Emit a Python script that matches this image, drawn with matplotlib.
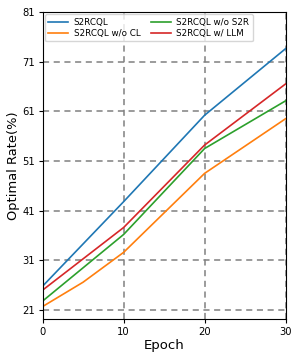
import matplotlib
matplotlib.use("Agg")
import matplotlib.pyplot as plt

epochs = [0, 10, 20, 30]
epochs_cl = [0, 5, 10, 20, 30]
s2rcql = [25.8, 42.8, 60.2, 73.6]
wo_cl = [21.7, 26.6, 32.6, 48.5, 59.5]
wo_s2r = [22.8, 36.2, 53.5, 63.1]
w_llm = [25.0, 37.6, 54.2, 66.5]

yticks = [21, 31, 41, 51, 61, 71, 81]
xticks = [0, 10, 20, 30]

fig = plt.figure(figsize=(3.0, 3.6), dpi=100)
ax = fig.add_axes([0.142, 0.114, 0.81, 0.853])

ax.plot(epochs, s2rcql, color="tab:blue", lw=1.2, label="S2RCQL")
ax.plot(epochs_cl, wo_cl, color="tab:orange", lw=1.2, label="S2RCQL w/o CL")
ax.plot(epochs, wo_s2r, color="tab:green", lw=1.2, label="S2RCQL w/o S2R")
ax.plot(epochs, w_llm, color="tab:red", lw=1.2, label="S2RCQL w/ LLM")

ax.set_xlim(0, 30)
ax.set_ylim(19.2, 81)
ax.set_xticks(xticks)
ax.set_yticks(yticks)
ax.tick_params(labelsize=7.2, length=3, pad=2.5)
ax.grid(True, linestyle="--", color="gray", lw=1.1, dashes=(4, 3))

ax.set_xlabel("Epoch", fontsize=9.5, labelpad=2)
ax.set_ylabel("Optimal Rate(%)", fontsize=9.4, labelpad=1.5)

ax.legend(loc="upper left", ncol=2, fontsize=6.3, handlelength=2.3,
          columnspacing=1.2, handletextpad=0.6, labelspacing=0.25,
          borderaxespad=0.25)

fig.savefig("out.png", dpi=100)
